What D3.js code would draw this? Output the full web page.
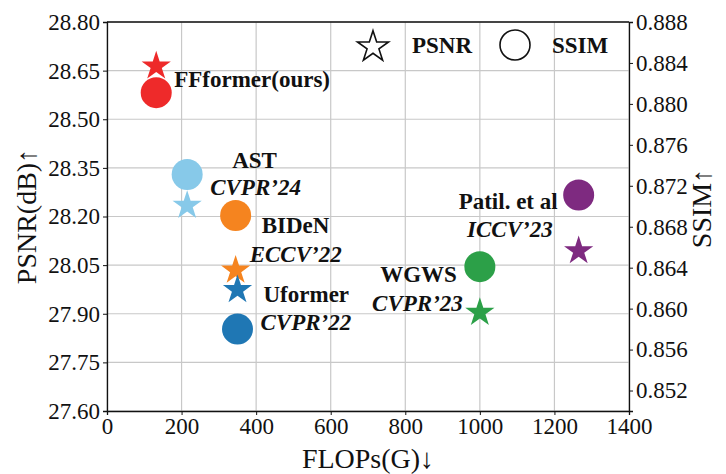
<!DOCTYPE html>
<html>
<head>
<meta charset="utf-8">
<script src="https://cdn.jsdelivr.net/npm/d3@7"></script>
<style>
  body { margin: 0; background: white; }
  text { font-family: "Liberation Serif", "Times New Roman", serif; fill: #111; }
  .axis path, .axis line { stroke: #111; }
  .grid line { stroke: #c8c8c8; stroke-width: 1.2; }
  .etiqueta { font-size: 23px; font-weight: bold; }
  .venue { font-size: 23px; font-weight: bold; font-style: italic; }
  .titulo-eje { font-size: 28px; }
</style>
</head>
<body>
<div id="graf"></div>
<script>
// Datos
const metodos = ["FFformer(ours)", "AST", "BIDeN", "Uformer", "WGWS", "Patil. et al"]
const venues = ["", "CVPR’24", "ECCV’22", "CVPR’22", "CVPR’23", "ICCV’23"]
const flops = [132, 215, 345, 350, 1000, 1265]
const psnr = [28.67, 28.24, 28.04, 27.98, 27.91, 28.10]
const ssim = [0.8811, 0.8731, 0.8691, 0.8580, 0.8641, 0.8711]
const colores = ["#ee2a2a", "#87c9e9", "#f5841f", "#1f77b4", "#2ca048", "#7e2a80"]

const xTicks = [0, 200, 400, 600, 800, 1000, 1200, 1400]
const psnrTicks = [27.60, 27.75, 27.90, 28.05, 28.20, 28.35, 28.50, 28.65, 28.80]
const ssimTicks = [0.852, 0.856, 0.860, 0.864, 0.868, 0.872, 0.876, 0.880, 0.884, 0.888]

// desplazamiento de etiquetas respecto al círculo: [dx, dy, anchor] para nombre y venue
const offsets = [
  { n: [18, -6, "start"], v: null },
  { n: [45, -7, "start"], v: [23, 20, "start"] },
  { n: [26, 18, "start"], v: [14, 47, "start"] },
  { n: [26, -27, "start"], v: [23, 1, "start"] },
  { n: [-23, 15, "end"], v: [-17, 44, "end"] },
  { n: [-21, 14, "end"], v: [-26, 42, "end"] },
]

const data = metodos.map((m, i) => ({
  metodo: m, venue: venues[i], flops: flops[i], psnr: psnr[i], ssim: ssim[i], color: colores[i], off: offsets[i],
}))

// Dimensiones
const anchoTotal = 726
const altoTotal = 474
const margins = { top: 22, right: 97, bottom: 63, left: 107 }
const ancho = anchoTotal - margins.left - margins.right
const alto = altoTotal - margins.top - margins.bottom

const svg = d3.select("#graf")
  .append("svg")
  .attr("width", anchoTotal)
  .attr("height", altoTotal)

const g = svg.append("g").attr("transform", `translate(${margins.left}, ${margins.top})`)

// Escaladores
const x = d3.scaleLinear().domain([0, 1400]).range([0, ancho])
const yP = d3.scaleLinear().domain([27.6, 28.8]).range([alto, 0])
const yS = d3.scaleLinear().domain([0.850, 0.888]).range([alto, 0])

// Grid
const grid = g.append("g").classed("grid", true)
grid.selectAll(".gv").data(xTicks).enter().append("line")
  .attr("x1", (d) => x(d)).attr("x2", (d) => x(d))
  .attr("y1", 0).attr("y2", alto)
grid.selectAll(".gh").data(psnrTicks).enter().append("line")
  .attr("x1", 0).attr("x2", ancho)
  .attr("y1", (d) => yP(d)).attr("y2", (d) => yP(d))

// Ejes
const xAxis = d3.axisBottom(x).tickValues(xTicks).tickFormat(d3.format("d")).tickSize(4).tickPadding(3)
const yAxisL = d3.axisLeft(yP).tickValues(psnrTicks).tickFormat(d3.format(".2f")).tickSize(4).tickPadding(3)
const yAxisR = d3.axisRight(yS).tickValues(ssimTicks).tickFormat(d3.format(".3f")).tickSize(4).tickPadding(3)

const ejes = [
  g.append("g").attr("transform", `translate(0, ${alto})`).call(xAxis),
  g.append("g").call(yAxisL),
  g.append("g").attr("transform", `translate(${ancho}, 0)`).call(yAxisR),
]
ejes.forEach((e) => {
  e.classed("axis", true)
    .attr("font-family", "Liberation Serif, Times New Roman, serif")
    .attr("font-size", 23)
  e.select(".domain").attr("stroke-width", 1.3)
})
g.append("line").attr("x1", 0).attr("x2", ancho).attr("y1", 0).attr("y2", 0)
  .attr("stroke", "#111").attr("stroke-width", 1.3)

// Títulos de ejes
svg.append("text").classed("titulo-eje", true)
  .attr("x", margins.left + ancho / 2).attr("y", 468)
  .attr("text-anchor", "middle").text("FLOPs(G)↓")
svg.append("text").classed("titulo-eje", true)
  .attr("transform", `translate(36, ${margins.top + alto / 2}) rotate(-90)`)
  .attr("text-anchor", "middle").text("PSNR(dB)↑")
svg.append("text").classed("titulo-eje", true)
  .attr("transform", `translate(711, ${margins.top + alto / 2 - 8}) rotate(-90)`)
  .attr("text-anchor", "middle").text("SSIM↑")

// Marcadores
const star = d3.symbol().type(d3.symbolStar).size(265)

g.selectAll(".circ").data(data).enter().append("circle")
  .attr("cx", (d) => x(d.flops))
  .attr("cy", (d) => yS(d.ssim))
  .attr("r", 15.5)
  .attr("fill", (d) => d.color)

g.selectAll(".star").data(data).enter().append("path")
  .attr("d", star)
  .attr("transform", (d) => `translate(${x(d.flops)}, ${yP(d.psnr) + 2})`)
  .attr("fill", (d) => d.color)

// Etiquetas
g.selectAll(".etiqueta").data(data).enter().append("text")
  .classed("etiqueta", true)
  .attr("x", (d) => x(d.flops) + d.off.n[0])
  .attr("y", (d) => yS(d.ssim) + d.off.n[1])
  .attr("text-anchor", (d) => d.off.n[2])
  .text((d) => d.metodo)

g.selectAll(".venue").data(data.filter((d) => d.off.v)).enter().append("text")
  .classed("venue", true)
  .attr("x", (d) => x(d.flops) + d.off.v[0])
  .attr("y", (d) => yS(d.ssim) + d.off.v[1])
  .attr("text-anchor", (d) => d.off.v[2])
  .text((d) => d.venue)

// Leyenda
const leyenda = svg.append("g")
leyenda.append("path")
  .attr("d", d3.symbol().type(d3.symbolStar).size(300))
  .attr("transform", "translate(373, 47)")
  .attr("fill", "none").attr("stroke", "#111").attr("stroke-width", 1.6)
leyenda.append("text").classed("etiqueta", true).attr("x", 412).attr("y", 53).text("PSNR")
leyenda.append("circle").attr("cx", 515).attr("cy", 45).attr("r", 15)
  .attr("fill", "none").attr("stroke", "#111").attr("stroke-width", 1.6)
leyenda.append("text").classed("etiqueta", true).attr("x", 552).attr("y", 53).text("SSIM")
</script>
</body>
</html>
